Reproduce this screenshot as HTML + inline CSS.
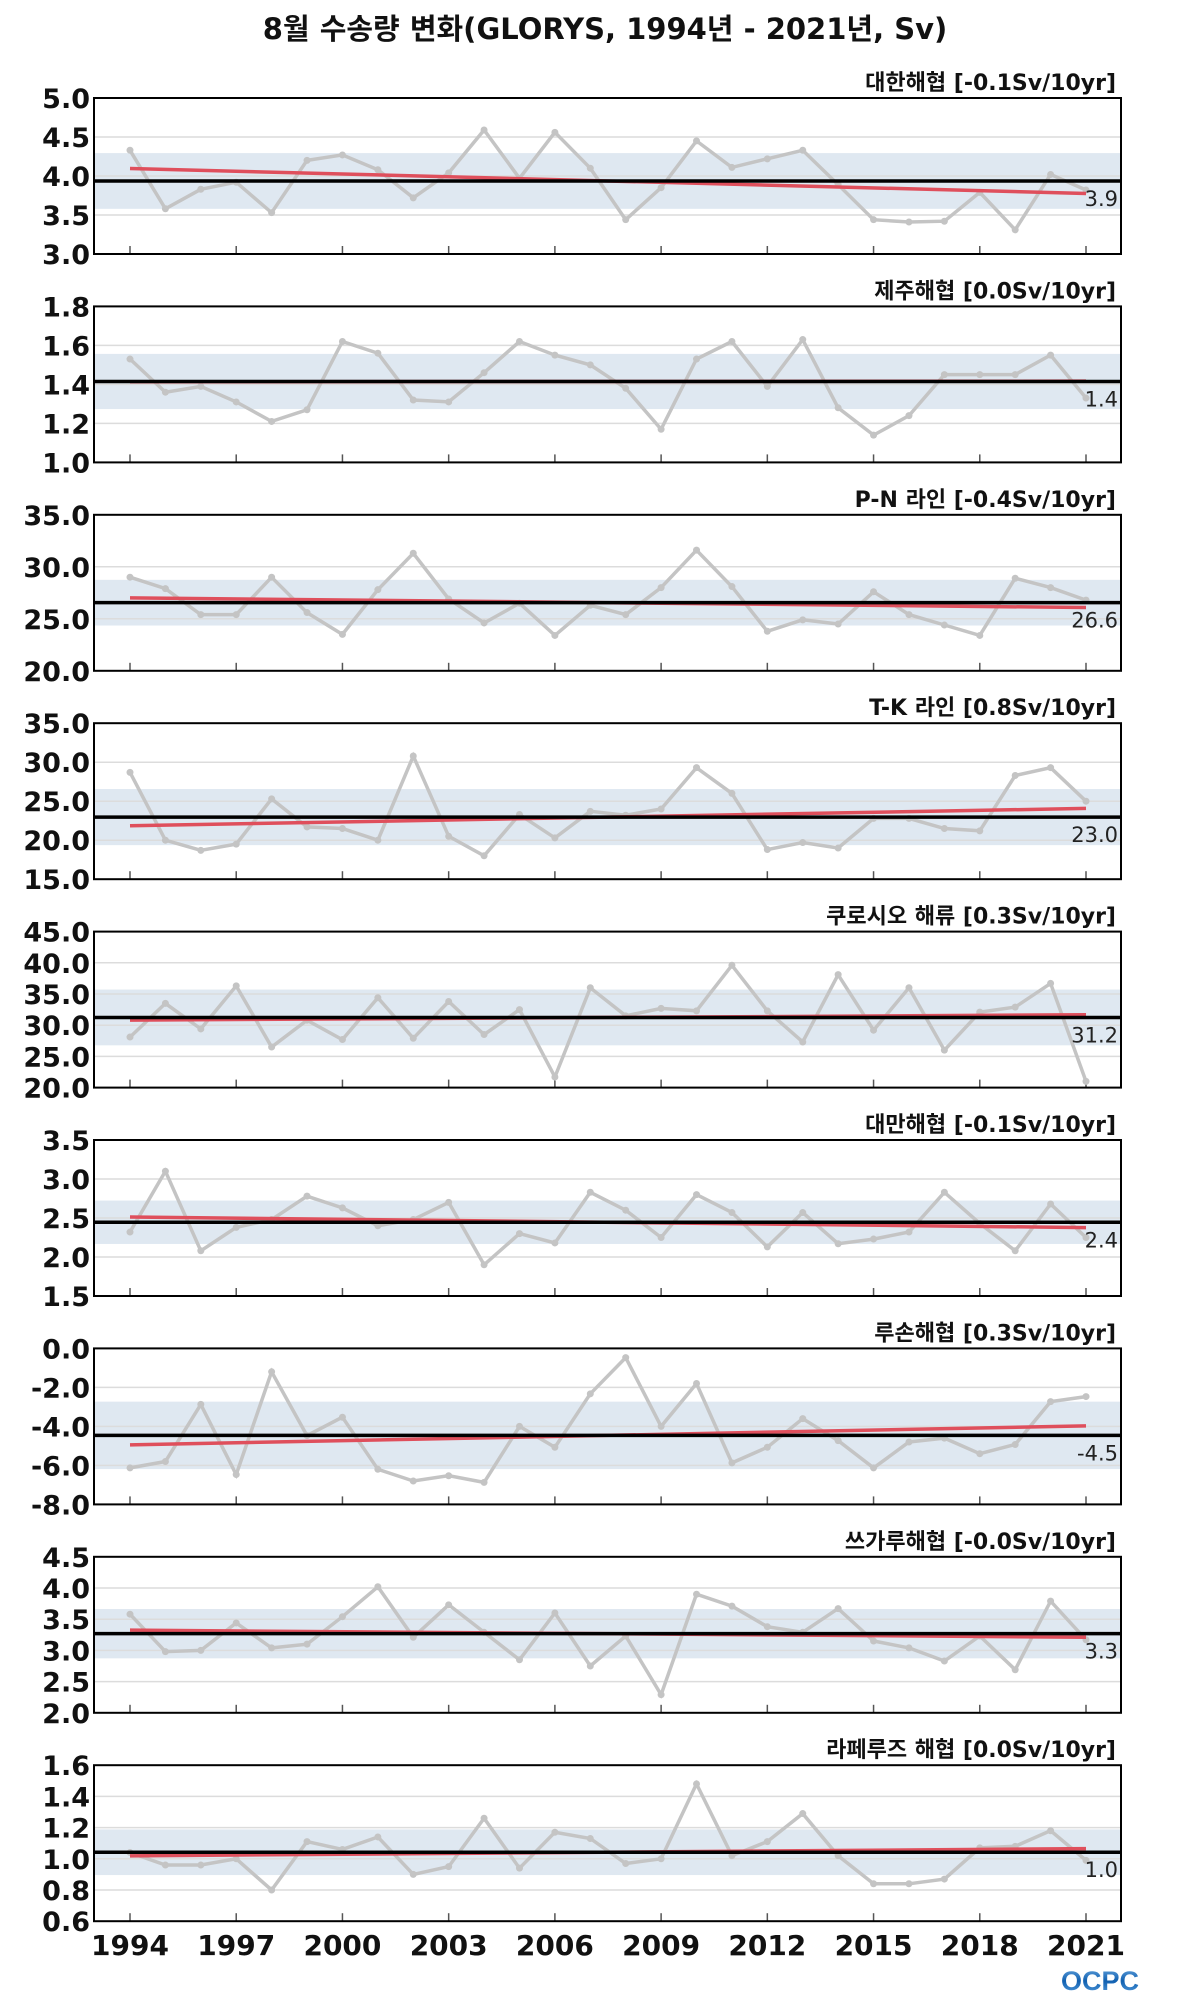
<!DOCTYPE html>
<html><head><meta charset="utf-8"><style>
body{margin:0;background:#fff;}
svg{display:block;font-family:"DejaVu Sans","Liberation Sans","Noto Sans CJK KR",sans-serif;}
</style></head><body>
<svg id="chart" width="1200" height="2000" viewBox="0 0 1200 2000">
<defs><linearGradient id="og" x1="0" y1="0" x2="0" y2="1"><stop offset="0" stop-color="#6aa8e0"/><stop offset="0.5" stop-color="#1060b0"/><stop offset="1" stop-color="#5aa0e0"/></linearGradient></defs>
<text x="605" y="39" text-anchor="middle" font-size="29" font-weight="bold" fill="#111">8월 수송량 변화(GLORYS, 1994년 - 2021년, Sv)</text>
<text x="1100" y="1990" text-anchor="middle" font-size="27" font-weight="bold" fill="url(#og)" font-family="Liberation Sans, sans-serif">OCPC</text>
</svg>
<script>
const years = [];
for (let y = 1994; y <= 2021; y++) years.push(y);
const xTickYears = [1994,1997,2000,2003,2006,2009,2012,2015,2018,2021];
const panelTitles = ["대한해협 [-0.1Sv/10yr]","제주해협 [0.0Sv/10yr]","P-N 라인 [-0.4Sv/10yr]","T-K 라인 [0.8Sv/10yr]","쿠로시오 해류 [0.3Sv/10yr]","대만해협 [-0.1Sv/10yr]","루손해협 [0.3Sv/10yr]","쓰가루해협 [-0.0Sv/10yr]","라페루즈 해협 [0.0Sv/10yr]"];
const yMins = [3.0,1.0,20,15,20,1.5,-8,2.0,0.6];
const yMaxs = [5.0,1.8,35,35,45,3.5,0,4.5,1.6];
const yTickSteps = [0.5,0.2,5,5,5,0.5,2,0.5,0.2];
const korea = [4.33,3.58,3.83,3.92,3.53,4.20,4.27,4.08,3.72,4.04,4.59,3.97,4.56,4.10,3.44,3.85,4.45,4.11,4.22,4.33,3.89,3.44,3.41,3.42,3.79,3.31,4.02,3.82];
const jeju = [1.53,1.36,1.39,1.31,1.21,1.27,1.62,1.56,1.32,1.31,1.46,1.62,1.55,1.50,1.38,1.17,1.53,1.62,1.39,1.63,1.28,1.14,1.24,1.45,1.45,1.45,1.55,1.33];
const pn = [29.0,27.9,25.4,25.4,29.0,25.6,23.5,27.8,31.3,26.9,24.6,26.5,23.4,26.3,25.4,28.0,31.6,28.1,23.8,24.9,24.5,27.6,25.4,24.4,23.4,28.9,28.0,26.8];
const tk = [28.7,20.0,18.7,19.5,25.3,21.7,21.5,20.0,30.8,20.5,18.0,23.3,20.3,23.7,23.2,24.0,29.3,26.0,18.8,19.7,19.0,22.8,22.8,21.5,21.2,28.3,29.3,25.0];
const kuroshio = [28.1,33.5,29.4,36.3,26.5,30.8,27.7,34.4,27.9,33.8,28.5,32.5,21.7,36.0,31.5,32.7,32.3,39.6,32.3,27.3,38.1,29.2,36.0,26.0,32.1,32.9,36.7,21.0];
const taiwan = [2.32,3.10,2.08,2.38,2.48,2.78,2.63,2.40,2.48,2.70,1.90,2.30,2.18,2.83,2.60,2.25,2.80,2.57,2.13,2.57,2.17,2.23,2.32,2.83,2.43,2.08,2.68,2.25];
const luzon = [-6.13,-5.8,-2.87,-6.47,-1.2,-4.47,-3.53,-6.2,-6.8,-6.53,-6.87,-4.0,-5.07,-2.33,-0.47,-4.0,-1.8,-5.87,-5.07,-3.6,-4.73,-6.13,-4.8,-4.6,-5.4,-4.93,-2.73,-2.47];
const tsugaru = [3.58,2.98,3.0,3.44,3.04,3.1,3.54,4.02,3.21,3.73,3.29,2.85,3.6,2.75,3.23,2.29,3.9,3.71,3.38,3.29,3.67,3.15,3.04,2.83,3.23,2.69,3.79,3.17];
const laperouse = [1.04,0.96,0.96,1.0,0.80,1.11,1.06,1.14,0.90,0.95,1.26,0.94,1.17,1.13,0.97,1.0,1.48,1.02,1.11,1.29,1.02,0.84,0.84,0.87,1.07,1.08,1.18,0.99];
const seriesList = [korea,jeju,pn,tk,kuroshio,taiwan,luzon,tsugaru,laperouse];

const NS = "http://www.w3.org/2000/svg";
const svg = document.getElementById("chart");
function mk(tag, attrs, parent){const e=document.createElementNS(NS,tag);for(const k in attrs)e.setAttribute(k,attrs[k]);(parent||svg).appendChild(e);return e;}
const L=94, R=1121, TOP0=98, H=156, GAP=208.4;
const X0=130, X1=1086;
function xScale(yr){return X0+(yr-1994)*(X1-X0)/27;}

seriesList.forEach((data,i)=>{
  const top=TOP0+i*GAP, bot=top+H;
  const mn=yMins[i], mx=yMaxs[i];
  const yS=v=>bot-(v-mn)/(mx-mn)*H;
  const g=mk("g",{});
  
  
  const n=data.length;
  const mean=data.reduce((a,b)=>a+b,0)/n;
  const sd=Math.sqrt(data.reduce((a,b)=>a+(b-mean)*(b-mean),0)/n);
  const xm=years.reduce((a,b)=>a+b,0)/n;
  let sxy=0,sxx=0; years.forEach((y,k)=>{sxy+=(y-xm)*(data[k]-mean);sxx+=(y-xm)*(y-xm);});
  const slope=sxy/sxx, icp=mean-slope*xm;
  const band=mk("rect",{x:L,y:yS(Math.min(mx,mean+sd)),width:R-L,height:yS(Math.max(mn,mean-sd))-yS(Math.min(mx,mean+sd)),fill:"#dfe8f1"},g);
  
  
  const step=yTickSteps[i];
  const nt=Math.round((mx-mn)/step);
  for(let t=0;t<=nt;t++){
    const v=mn+t*step, yy=yS(v);
    if(t>0&&t<nt){const gl=mk("line",{x1:L,x2:R,y1:yy,y2:yy,stroke:"#dcdcdc","stroke-width":1.5},g);
      
      }
    const lb=mk("text",{x:L-4,y:yy+10,"text-anchor":"end","font-size":27,"font-weight":"bold",fill:"#111"},g);
    lb.textContent=v.toFixed(1);
    
    
  }
  xTickYears.forEach(yr=>{const tk=mk("line",{x1:xScale(yr),x2:xScale(yr),y1:bot,y2:bot-8,stroke:"#555","stroke-width":1.5},g);
    
    });
  const pts=data.map((v,k)=>xScale(years[k]).toFixed(1)+","+yS(v).toFixed(1)).join(" ");
  const pl=mk("polyline",{points:pts,fill:"none",stroke:"#c4c4c4","stroke-width":3.5},g);
  
  
  data.forEach((v,k)=>{const c=mk("circle",{cx:xScale(years[k]),cy:yS(v),r:3.5,fill:"#c4c4c4"},g);
    
    });
  const tr=mk("line",{x1:xScale(1994),y1:yS(icp+slope*1994),x2:xScale(2021),y2:yS(icp+slope*2021),stroke:"#df4f5c","stroke-width":3.5},g);
  
  
  const ml=mk("line",{x1:L,x2:R,y1:yS(mean),y2:yS(mean),stroke:"#000","stroke-width":3.5},g);
  
  
  const mt=mk("text",{x:R-3,y:yS(mean)+25,"text-anchor":"end","font-size":21,fill:"#222"},g);
  mt.textContent=mean.toFixed(1);
  
  
  const fr=mk("rect",{x:L,y:top,width:R-L,height:H,fill:"none",stroke:"#000","stroke-width":2},g);
  
  
  const ti=mk("text",{x:R-5,y:top-8,"text-anchor":"end","font-size":22,"font-weight":"bold",fill:"#111"},g);
  ti.textContent=panelTitles[i];
  
  
});
xTickYears.forEach(yr=>{
  const t=mk("text",{x:xScale(yr),y:1955,"text-anchor":"middle","font-size":28,"font-weight":"bold",fill:"#111"});
  t.textContent=yr;
  
  
});
</script>
</body></html>
